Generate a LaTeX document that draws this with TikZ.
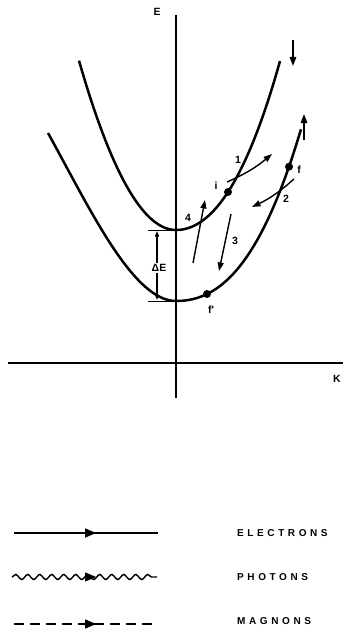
\documentclass[tikz,border=0pt]{standalone}
\usepackage{fontspec}
\setmainfont{Liberation Sans}[BoldFont={Liberation Sans Bold}]
\newfontfamily\lblfont{Liberation Sans Bold}
\newfontfamily\legfont[LetterSpace=36]{Liberation Sans Bold}
\usetikzlibrary{arrows.meta,decorations.pathmorphing,decorations.markings}
\begin{document}
\begin{tikzpicture}[x=1pt,y=-1pt,
  curve/.style={line width=2.5pt},
  axis/.style={line width=1.4pt},
  arr/.style={line width=1.4pt,-{Triangle[length=8.5pt,width=6pt]}},
  spin/.style={line width=1.6pt,-{Triangle[length=9pt,width=6.5pt]}},
  lbl/.style={font=\lblfont\fontsize{10.5}{11}\selectfont,inner sep=0pt},
  leg/.style={font=\legfont\fontsize{10}{11}\selectfont,anchor=west,inner sep=0pt},
  dotc/.style={circle,fill,inner sep=0pt,minimum size=8pt},
  legline/.style={line width=1.4pt},
  midarrow/.style={decoration={markings,mark=at position #1 with {\arrow{Triangle[length=11pt,width=9pt]}}},postaction={decorate}},
]
\useasboundingbox (0,0) rectangle (343,634);
% axes
\coordinate (ytop) at (176,15);
\coordinate (ybot) at (176,398);
\coordinate (xl) at (8,363);
\coordinate (xr) at (343,363);
\draw[axis] (ytop) -- (ybot);
\draw[axis] (xl) -- (xr);
\node[lbl] (Elab) at (157,12) {E};
\node[lbl] (Klab) at (337,379) {K};
% upper band
\draw[curve] plot[domain=-0.97:0,samples=60] ({176+100*\x},{230-180*\x*\x})
  -- plot[domain=0:1.04,samples=60] ({176+100*\x},{230-125*\x*\x-30*\x*\x*\x});
% lower band
\draw[curve] plot[domain=-1.28:0,samples=60] ({176+100*\x},{301-165.8*\x*\x-49.4*\x*\x*\x})
  -- plot[domain=0:1.25,samples=60] ({176+100*\x},{301-60*\x*\x-40*\x*\x*\x});
% points
\node[dotc] (i) at (228,192) {};
\node[dotc] (f) at (289,166.7) {};
\node[dotc] (fp) at (207,294) {};
\node[lbl] (ilab) at (216,186) {i};
\node[lbl] (flab) at (299,170) {f};
\node[lbl] (fplab) at (211,310) {f'};
% Delta E
\coordinate (b1l) at (148,230); \coordinate (b1r) at (176,230);
\coordinate (b2l) at (148,301); \coordinate (b2r) at (176,301);
\draw[line width=1pt] (b1l) -- (b1r);
\draw[line width=1pt] (b2l) -- (b2r);
\coordinate (dt) at (157,231); \coordinate (db) at (157,300);
\draw[line width=1.1pt,{Triangle[length=5.5pt,width=4pt]}-{Triangle[length=5.5pt,width=4pt]}] (dt) -- (db);
\node[lbl,fill=white,inner sep=1pt] (dE) at (159,268) {ΔE};
% transitions
\coordinate (a1s) at (227,182); \coordinate (a1e) at (272,154);
\draw[arr] (a1s) to[bend right=8] (a1e);
\node[lbl] (l1) at (238,160) {1};
\coordinate (a2s) at (294,179); \coordinate (a2e) at (252,207);
\draw[arr] (a2s) to[bend left=8] (a2e);
\node[lbl] (l2) at (286,199) {2};
\coordinate (a3s) at (231,214); \coordinate (a3e) at (219,271);
\draw[arr] (a3s) -- (a3e);
\node[lbl] (l3) at (235,241) {3};
\coordinate (a4s) at (193,263); \coordinate (a4e) at (205,200);
\draw[arr] (a4s) -- (a4e);
\node[lbl] (l4) at (188,218) {4};
% spins
\coordinate (s1s) at (293,40); \coordinate (s1e) at (293,66);
\draw[spin] (s1s) -- (s1e);
\coordinate (s2s) at (304,140); \coordinate (s2e) at (304,114);
\draw[spin] (s2s) -- (s2e);
% legend
\coordinate (e1) at (14,533); \coordinate (e2) at (158,533);
\draw[legline,midarrow=0.57] (e1) -- (e2);
\node[leg] (el) at (237,533) {ELECTRONS};
\coordinate (p1) at (12,577); \coordinate (p2) at (157,577);
\draw[legline,decorate,decoration={snake,segment length=12pt,amplitude=2.5pt}] (p1) -- (p2);
\path[midarrow=0.58] (p1) -- (p2);
\node[leg] (pl) at (237,577) {PHOTONS};
\coordinate (m1) at (14,624); \coordinate (m2) at (158,624);
\draw[legline,dash pattern=on 10pt off 6pt,midarrow=0.57] (m1) -- (m2);
\node[leg] (ml) at (237,621) {MAGNONS};
\end{tikzpicture}
\end{document}
